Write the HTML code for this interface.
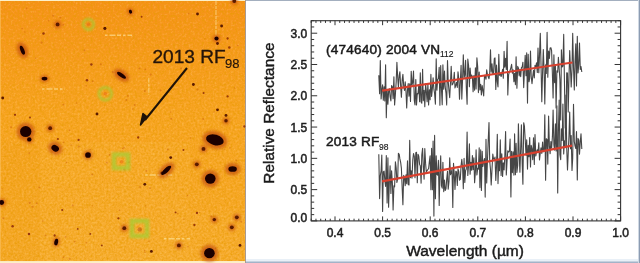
<!DOCTYPE html>
<html><head><meta charset="utf-8"><style>
html,body{margin:0;padding:0;background:#fff;width:640px;height:263px;overflow:hidden}
svg{position:absolute;left:0;top:0;display:block}
text{font-family:"Liberation Sans",sans-serif}
</style></head><body>
<svg width="640" height="263" viewBox="0 0 640 263">
<defs>
<linearGradient id="og" x1="0" y1="0" x2="0" y2="1">
<stop offset="0" stop-color="#f6921a"/><stop offset="0.45" stop-color="#f8a525"/><stop offset="1" stop-color="#f7ab2e"/>
</linearGradient>
<filter id="bl" x="-50%" y="-50%" width="200%" height="200%"><feGaussianBlur stdDeviation="0.6"/></filter>
<filter id="bl3" x="-50%" y="-50%" width="200%" height="200%"><feGaussianBlur stdDeviation="1.0"/></filter>
<filter id="bl2" x="-50%" y="-50%" width="200%" height="200%"><feGaussianBlur stdDeviation="1.4"/></filter>
<filter id="tex" x="0" y="0" width="100%" height="100%"><feTurbulence type="fractalNoise" baseFrequency="0.45" numOctaves="2" seed="4"/><feColorMatrix type="matrix" values="0 0 0 0 0.8  0 0 0 0 0.33  0 0 0 0 0  2.2 0 0 0 -0.95"/></filter>
<filter id="tex2" x="0" y="0" width="100%" height="100%"><feTurbulence type="fractalNoise" baseFrequency="0.45" numOctaves="2" seed="4"/><feColorMatrix type="matrix" values="0 0 0 0 1  0 0 0 0 0.82  0 0 0 0 0.35  -2.2 0 0 0 0.95"/></filter>
</defs>
<rect x="0" y="0" width="246" height="263" fill="#fcf0c8"/>
<rect x="0" y="1" width="245" height="260" fill="url(#og)"/>
<rect x="40" y="142" width="150" height="120" fill="#ffd060" opacity="0.1"/>
<rect x="0" y="142" width="40" height="120" fill="#e08000" opacity="0.05"/>
<rect x="190" y="212" width="55" height="50" fill="#ffd060" opacity="0.06"/>
<rect x="0" y="1" width="245" height="260" filter="url(#tex)" opacity="0.8"/>
<rect x="0" y="1" width="245" height="260" filter="url(#tex2)" opacity="0.35"/>
<rect x="0" y="1" width="1" height="260" fill="#f8c060" opacity="0.6"/>
<rect x="245" y="0" width="1" height="263" fill="#a89a90"/>
<g stroke="#fff0b0" stroke-width="1.5" opacity="0.55" filter="url(#bl)">
<path d="M105,35.3h27M42,89h23M145.3,174.9h27M164,238.8h26" stroke-dasharray="2.5 2 6 1.5 4 2"/>
<path d="M216,0v37M148.8,77.7v17" stroke-width="1.2" opacity="0.9" stroke-dasharray="5 1 3 1"/>
</g>
<g fill="#c8580a" opacity="0.45" filter="url(#bl)"><circle cx="124.0" cy="147.7" r="0.86"/><circle cx="236.3" cy="160.4" r="0.88"/><circle cx="71.1" cy="145.0" r="0.83"/><circle cx="149.0" cy="241.2" r="0.72"/><circle cx="76.6" cy="103.1" r="0.74"/><circle cx="86.4" cy="242.7" r="0.79"/><circle cx="188.7" cy="13.4" r="0.75"/><circle cx="171.3" cy="118.8" r="1.04"/><circle cx="106.9" cy="162.6" r="0.89"/><circle cx="146.4" cy="170.9" r="0.86"/><circle cx="48.7" cy="20.7" r="0.73"/><circle cx="24.9" cy="32.0" r="0.74"/><circle cx="144.8" cy="90.9" r="0.99"/><circle cx="234.7" cy="88.0" r="0.72"/><circle cx="167.8" cy="149.6" r="0.98"/><circle cx="150.7" cy="74.6" r="1.06"/><circle cx="140.1" cy="186.9" r="0.94"/><circle cx="187.5" cy="195.6" r="0.81"/><circle cx="11.1" cy="127.2" r="1.05"/><circle cx="36.8" cy="203.2" r="0.93"/><circle cx="172.1" cy="58.8" r="0.64"/><circle cx="66.5" cy="162.5" r="0.79"/><circle cx="63.4" cy="104.6" r="0.96"/><circle cx="63.6" cy="142.4" r="0.80"/><circle cx="241.3" cy="221.6" r="0.96"/><circle cx="134.7" cy="105.0" r="0.94"/><circle cx="205.0" cy="38.8" r="0.62"/><circle cx="112.8" cy="72.0" r="1.04"/><circle cx="65.6" cy="236.8" r="0.85"/><circle cx="203.2" cy="119.0" r="0.96"/><circle cx="237.7" cy="45.5" r="0.73"/><circle cx="126.3" cy="99.9" r="1.00"/><circle cx="224.5" cy="149.6" r="0.67"/><circle cx="92.7" cy="81.2" r="0.92"/><circle cx="63.2" cy="24.8" r="0.86"/><circle cx="69.4" cy="130.3" r="0.77"/><circle cx="186.4" cy="69.2" r="0.97"/><circle cx="29.7" cy="202.8" r="1.10"/><circle cx="69.8" cy="258.9" r="0.91"/><circle cx="139.4" cy="68.4" r="0.94"/><circle cx="109.6" cy="154.9" r="0.84"/><circle cx="190.5" cy="137.9" r="0.77"/><circle cx="78.7" cy="146.5" r="1.08"/><circle cx="26.5" cy="8.4" r="0.82"/><circle cx="45.6" cy="235.3" r="0.88"/><circle cx="199.5" cy="212.3" r="0.61"/><circle cx="214.1" cy="111.9" r="0.71"/><circle cx="211.2" cy="216.5" r="1.04"/><circle cx="215.5" cy="248.3" r="0.73"/><circle cx="60.4" cy="17.6" r="0.97"/><circle cx="92.2" cy="174.5" r="1.00"/><circle cx="63.6" cy="257.2" r="0.90"/><circle cx="216.7" cy="134.8" r="1.06"/><circle cx="119.6" cy="210.2" r="0.79"/><circle cx="2.1" cy="188.7" r="0.66"/><circle cx="229.8" cy="147.9" r="0.78"/><circle cx="187.9" cy="246.7" r="0.80"/><circle cx="170.7" cy="112.0" r="0.66"/><circle cx="42.8" cy="221.0" r="0.83"/><circle cx="86.2" cy="85.7" r="0.77"/><circle cx="72.8" cy="205.5" r="0.95"/><circle cx="145.6" cy="205.9" r="0.66"/><circle cx="204.0" cy="65.3" r="0.66"/><circle cx="127.9" cy="95.9" r="0.96"/><circle cx="183.9" cy="219.2" r="0.69"/><circle cx="160.6" cy="90.5" r="0.93"/><circle cx="177.8" cy="213.5" r="0.82"/><circle cx="122.7" cy="148.5" r="0.87"/><circle cx="197.5" cy="89.5" r="1.02"/><circle cx="39.3" cy="187.4" r="0.96"/><circle cx="145.3" cy="69.4" r="0.90"/><circle cx="53.2" cy="15.8" r="0.98"/><circle cx="100.8" cy="64.3" r="0.96"/><circle cx="90.2" cy="149.4" r="0.76"/><circle cx="35.6" cy="58.2" r="0.74"/><circle cx="124.1" cy="169.5" r="1.08"/><circle cx="144.7" cy="250.4" r="0.68"/><circle cx="22.2" cy="28.6" r="0.80"/><circle cx="92.3" cy="205.8" r="0.62"/><circle cx="144.9" cy="252.3" r="0.77"/><circle cx="128.9" cy="162.2" r="0.91"/><circle cx="132.9" cy="109.0" r="0.80"/><circle cx="32.5" cy="206.7" r="1.06"/><circle cx="41.6" cy="42.6" r="1.10"/><circle cx="3.3" cy="218.3" r="1.08"/><circle cx="181.1" cy="68.4" r="0.99"/><circle cx="150.0" cy="188.2" r="0.84"/><circle cx="74.7" cy="241.6" r="0.88"/><circle cx="84.5" cy="50.3" r="0.94"/><circle cx="29.2" cy="153.1" r="0.86"/></g>
<g fill="#c04a08" opacity="0.65" filter="url(#bl2)"><ellipse cx="57.6" cy="24.4" rx="3.60" ry="3.60"/><ellipse cx="22.4" cy="50.2" rx="5.20" ry="8.20" transform="rotate(-22 22.4 50.2)"/><ellipse cx="44.5" cy="78.6" rx="4.60" ry="3.60"/><ellipse cx="130.5" cy="11.7" rx="3.20" ry="3.70" transform="rotate(-20 130.5 11.7)"/><ellipse cx="121.5" cy="75.3" rx="8.70" ry="5.20" transform="rotate(35 121.5 75.3)"/><ellipse cx="234.3" cy="1" rx="3.60" ry="3.60"/><ellipse cx="216.5" cy="38.5" rx="3.80" ry="3.80"/><ellipse cx="25.7" cy="131.6" rx="9.20" ry="9.00"/><ellipse cx="29.3" cy="139.4" rx="3.90" ry="3.90"/><ellipse cx="50.2" cy="128.2" rx="3.60" ry="3.60"/><ellipse cx="55.2" cy="148.3" rx="7.40" ry="6.40" transform="rotate(30 55.2 148.3)"/><ellipse cx="88" cy="155" rx="4.60" ry="4.60"/><ellipse cx="226" cy="120.8" rx="3.40" ry="3.40"/><ellipse cx="214.9" cy="139.9" rx="12.70" ry="8.70" transform="rotate(15 214.9 139.9)"/><ellipse cx="203.5" cy="148.9" rx="3.60" ry="3.60"/><ellipse cx="166.3" cy="170.3" rx="9.90" ry="5.50" transform="rotate(-43 166.3 170.3)"/><ellipse cx="196.8" cy="164.3" rx="3.60" ry="3.60"/><ellipse cx="232.6" cy="169" rx="7.70" ry="6.20"/><ellipse cx="1.7" cy="202.5" rx="4.10" ry="4.10"/><ellipse cx="56.2" cy="242.1" rx="3.60" ry="5.10" transform="rotate(10 56.2 242.1)"/><ellipse cx="124.3" cy="228.2" rx="3.60" ry="3.60"/><ellipse cx="210.3" cy="178.6" rx="8.80" ry="8.60"/><ellipse cx="214.3" cy="219.6" rx="3.40" ry="3.40"/><ellipse cx="236.8" cy="217.3" rx="3.60" ry="3.60"/><ellipse cx="231.8" cy="227.3" rx="3.60" ry="3.60"/><ellipse cx="178.9" cy="245.4" rx="3.60" ry="3.60"/><ellipse cx="209.4" cy="253.2" rx="8.80" ry="8.60"/></g>
<g fill="#200800" filter="url(#bl)"><ellipse fill="#5a1a02" cx="57.6" cy="24.4" rx="1.90" ry="1.90"/><ellipse fill="#9a3a0a" cx="43.5" cy="33.5" rx="1.23" ry="1.23"/><ellipse fill="#1c0600" cx="22.4" cy="50.2" rx="1.90" ry="4.75" transform="rotate(-22 22.4 50.2)"/><ellipse fill="#1c0600" cx="44.5" cy="78.6" rx="2.85" ry="1.90"/><ellipse fill="#1c0600" cx="130.5" cy="11.7" rx="1.52" ry="1.99" transform="rotate(-20 130.5 11.7)"/><ellipse fill="#9a3a0a" cx="141.6" cy="16.7" rx="0.95" ry="0.95"/><ellipse fill="#5a1a02" cx="104.8" cy="28.4" rx="1.42" ry="1.42"/><ellipse fill="#5a1a02" cx="105" cy="28.4" rx="1.33" ry="1.33"/><ellipse fill="#9a3a0a" cx="91.4" cy="64.6" rx="1.23" ry="1.23"/><ellipse fill="#1c0600" cx="121.5" cy="75.3" rx="5.22" ry="1.90" transform="rotate(35 121.5 75.3)"/><ellipse fill="#9a3a0a" cx="87" cy="80.3" rx="1.23" ry="1.23"/><ellipse fill="#5a1a02" cx="234.3" cy="1" rx="1.90" ry="1.90"/><ellipse fill="#5a1a02" cx="197.5" cy="14" rx="1.42" ry="1.42"/><ellipse fill="#5a1a02" cx="221.6" cy="26" rx="1.42" ry="1.42"/><ellipse fill="#1c0600" cx="216.5" cy="38.5" rx="2.09" ry="2.09"/><ellipse fill="#9a3a0a" cx="227.6" cy="38.5" rx="1.14" ry="1.14"/><ellipse fill="#5a1a02" cx="217.5" cy="43.5" rx="1.42" ry="1.42"/><ellipse fill="#9a3a0a" cx="229.3" cy="47.5" rx="1.23" ry="1.23"/><ellipse fill="#5a1a02" cx="193.4" cy="84.5" rx="1.42" ry="1.42"/><ellipse fill="#9a3a0a" cx="203.6" cy="93" rx="0.95" ry="0.95"/><ellipse fill="#5a1a02" cx="2.7" cy="98" rx="1.42" ry="1.42"/><ellipse fill="#9a3a0a" cx="15" cy="114.8" rx="1.14" ry="1.14"/><ellipse fill="#1c0600" cx="25.7" cy="131.6" rx="5.70" ry="5.51"/><ellipse fill="#1c0600" cx="29.3" cy="139.4" rx="2.18" ry="2.18"/><ellipse fill="#9a3a0a" cx="30" cy="117.5" rx="0.95" ry="0.95"/><ellipse fill="#5a1a02" cx="50.2" cy="128.2" rx="1.90" ry="1.90"/><ellipse fill="#1c0600" cx="55.2" cy="148.3" rx="3.99" ry="3.04" transform="rotate(30 55.2 148.3)"/><ellipse fill="#9a3a0a" cx="57.9" cy="139" rx="1.04" ry="1.04"/><ellipse fill="#9a3a0a" cx="78.6" cy="139.9" rx="1.14" ry="1.14"/><ellipse fill="#5a1a02" cx="97" cy="114" rx="1.42" ry="1.42"/><ellipse fill="#9a3a0a" cx="138.2" cy="137.5" rx="1.14" ry="1.14"/><ellipse fill="#1c0600" cx="88" cy="155" rx="2.85" ry="2.85"/><ellipse fill="#5a1a02" cx="162" cy="173" rx="1.52" ry="1.52"/><ellipse fill="#9a3a0a" cx="227.6" cy="96.4" rx="1.14" ry="1.14"/><ellipse fill="#5a1a02" cx="217.5" cy="109.8" rx="1.42" ry="1.42"/><ellipse fill="#5a1a02" cx="226" cy="115.4" rx="1.42" ry="1.42"/><ellipse fill="#5a1a02" cx="226" cy="120.8" rx="1.71" ry="1.71"/><ellipse fill="#9a3a0a" cx="244.3" cy="126.5" rx="1.14" ry="1.14"/><ellipse fill="#1c0600" cx="214.9" cy="139.9" rx="9.03" ry="5.22" transform="rotate(15 214.9 139.9)"/><ellipse fill="#5a1a02" cx="203.5" cy="148.9" rx="1.90" ry="1.90"/><ellipse fill="#5a1a02" cx="170.7" cy="157.6" rx="1.42" ry="1.42"/><ellipse fill="#9a3a0a" cx="183.4" cy="150" rx="0.95" ry="0.95"/><ellipse fill="#1c0600" cx="166.3" cy="170.3" rx="6.37" ry="2.18" transform="rotate(-43 166.3 170.3)"/><ellipse fill="#5a1a02" cx="196.8" cy="164.3" rx="1.90" ry="1.90"/><ellipse fill="#1c0600" cx="232.6" cy="169" rx="4.27" ry="2.85"/><ellipse fill="#1c0600" cx="1.7" cy="202.5" rx="2.38" ry="2.38"/><ellipse fill="#9a3a0a" cx="12.6" cy="226.3" rx="1.23" ry="1.23"/><ellipse fill="#9a3a0a" cx="29" cy="233.9" rx="1.23" ry="1.23"/><ellipse fill="#9a3a0a" cx="62.2" cy="210" rx="1.04" ry="1.04"/><ellipse fill="#1c0600" cx="56.2" cy="242.1" rx="1.90" ry="3.32" transform="rotate(10 56.2 242.1)"/><ellipse fill="#9a3a0a" cx="54.6" cy="235.5" rx="1.14" ry="1.14"/><ellipse fill="#9a3a0a" cx="77.7" cy="228.9" rx="0.95" ry="0.95"/><ellipse fill="#5a1a02" cx="144.8" cy="184.3" rx="1.42" ry="1.42"/><ellipse fill="#9a3a0a" cx="118.4" cy="218.3" rx="1.14" ry="1.14"/><ellipse fill="#5a1a02" cx="124.3" cy="228.2" rx="1.90" ry="1.90"/><ellipse fill="#5a1a02" cx="151.4" cy="251.4" rx="1.42" ry="1.42"/><ellipse fill="#9a3a0a" cx="101.8" cy="245.4" rx="0.95" ry="0.95"/><ellipse fill="#9a3a0a" cx="90.3" cy="233.9" rx="0.95" ry="0.95"/><ellipse fill="#1c0600" cx="210.3" cy="178.6" rx="5.32" ry="5.13"/><ellipse fill="#5a1a02" cx="214.3" cy="219.6" rx="1.71" ry="1.71"/><ellipse fill="#5a1a02" cx="236.8" cy="217.3" rx="1.90" ry="1.90"/><ellipse fill="#5a1a02" cx="231.8" cy="227.3" rx="1.90" ry="1.90"/><ellipse fill="#9a3a0a" cx="197" cy="213" rx="1.14" ry="1.14"/><ellipse fill="#9a3a0a" cx="194.4" cy="225" rx="1.14" ry="1.14"/><ellipse fill="#9a3a0a" cx="175.6" cy="212.4" rx="0.95" ry="0.95"/><ellipse fill="#5a1a02" cx="178.9" cy="245.4" rx="1.90" ry="1.90"/><ellipse fill="#1c0600" cx="209.4" cy="253.2" rx="5.32" ry="5.13"/><ellipse fill="#5a1a02" cx="240" cy="245.4" rx="1.42" ry="1.42"/></g>
<g fill="none" stroke="#a0d038" stroke-width="2.8" opacity="0.7" filter="url(#bl3)">
<circle cx="88.4" cy="24.3" r="5.2"/><circle cx="105.3" cy="93.8" r="6.3"/>
<rect x="114" y="154.5" width="14" height="13.5" stroke-width="4.5"/><rect x="132" y="221" width="15" height="15" stroke-width="4.5"/>
</g>
<g fill="#e05010" opacity="0.35" filter="url(#bl)">
<circle cx="88.4" cy="24.3" r="1.8"/><circle cx="105.3" cy="93.8" r="1.8"/><circle cx="121.6" cy="161.8" r="1.8"/><circle cx="139.8" cy="229.4" r="2.2" fill="#902000"/>
</g>
<g fill="#24140a" stroke="#24140a" stroke-width="0.35">
<text x="152.4" y="62.8" font-size="19.1">2013 RF</text>
<text x="225" y="68.3" font-size="13" stroke-width="0.2">98</text>
</g>
<g stroke="#1e1208" stroke-width="2" fill="none">
<path d="M187,68L145,120"/>
</g>
<path d="M140.5,125L143,113.5L147,116.8Z" fill="#1e1208" stroke="#1e1208" stroke-width="1.5" stroke-linejoin="round"/>

<rect x="246" y="0" width="394" height="263" fill="#fff"/>
<rect x="246" y="0" width="394" height="1" fill="#a3afbf"/>
<rect x="246" y="259" width="394" height="3" fill="#e9f0f7"/>
<rect x="246" y="261.5" width="394" height="1.5" fill="#a3b3c8"/>
<rect x="638" y="0" width="1" height="263" fill="#d0d9e4"/>
<rect x="639" y="0" width="1" height="263" fill="#8c9cb2"/>

<g fill="none" stroke="#333" stroke-width="1.1">
<rect x="311.2" y="20.7" width="309.4" height="200.20000000000002"/>
<path d="M311.2,220.90h6M620.6,220.90h-6M311.2,214.64h3M620.6,214.64h-3M311.2,208.39h3M620.6,208.39h-3M311.2,202.13h3M620.6,202.13h-3M311.2,195.88h3M620.6,195.88h-3M311.2,189.62h6M620.6,189.62h-6M311.2,183.36h3M620.6,183.36h-3M311.2,177.11h3M620.6,177.11h-3M311.2,170.85h3M620.6,170.85h-3M311.2,164.59h3M620.6,164.59h-3M311.2,158.34h6M620.6,158.34h-6M311.2,152.08h3M620.6,152.08h-3M311.2,145.83h3M620.6,145.83h-3M311.2,139.57h3M620.6,139.57h-3M311.2,133.31h3M620.6,133.31h-3M311.2,127.06h6M620.6,127.06h-6M311.2,120.80h3M620.6,120.80h-3M311.2,114.54h3M620.6,114.54h-3M311.2,108.29h3M620.6,108.29h-3M311.2,102.03h3M620.6,102.03h-3M311.2,95.77h6M620.6,95.77h-6M311.2,89.52h3M620.6,89.52h-3M311.2,83.26h3M620.6,83.26h-3M311.2,77.01h3M620.6,77.01h-3M311.2,70.75h3M620.6,70.75h-3M311.2,64.49h6M620.6,64.49h-6M311.2,58.24h3M620.6,58.24h-3M311.2,51.98h3M620.6,51.98h-3M311.2,45.73h3M620.6,45.73h-3M311.2,39.47h3M620.6,39.47h-3M311.2,33.21h6M620.6,33.21h-6M311.2,26.96h3M620.6,26.96h-3M311.2,20.70h3M620.6,20.70h-3M311.20,220.9v-2.2M311.20,20.7v2.2M315.96,220.9v-2.2M315.96,20.7v2.2M320.72,220.9v-2.2M320.72,20.7v2.2M325.48,220.9v-2.2M325.48,20.7v2.2M330.24,220.9v-2.2M330.24,20.7v2.2M335.00,220.9v-4.5M335.00,20.7v4.5M339.76,220.9v-2.2M339.76,20.7v2.2M344.52,220.9v-2.2M344.52,20.7v2.2M349.28,220.9v-2.2M349.28,20.7v2.2M354.04,220.9v-2.2M354.04,20.7v2.2M358.80,220.9v-2.2M358.80,20.7v2.2M363.56,220.9v-2.2M363.56,20.7v2.2M368.32,220.9v-2.2M368.32,20.7v2.2M373.08,220.9v-2.2M373.08,20.7v2.2M377.84,220.9v-2.2M377.84,20.7v2.2M382.60,220.9v-4.5M382.60,20.7v4.5M387.36,220.9v-2.2M387.36,20.7v2.2M392.12,220.9v-2.2M392.12,20.7v2.2M396.88,220.9v-2.2M396.88,20.7v2.2M401.64,220.9v-2.2M401.64,20.7v2.2M406.40,220.9v-2.2M406.40,20.7v2.2M411.16,220.9v-2.2M411.16,20.7v2.2M415.92,220.9v-2.2M415.92,20.7v2.2M420.68,220.9v-2.2M420.68,20.7v2.2M425.44,220.9v-2.2M425.44,20.7v2.2M430.20,220.9v-4.5M430.20,20.7v4.5M434.96,220.9v-2.2M434.96,20.7v2.2M439.72,220.9v-2.2M439.72,20.7v2.2M444.48,220.9v-2.2M444.48,20.7v2.2M449.24,220.9v-2.2M449.24,20.7v2.2M454.00,220.9v-2.2M454.00,20.7v2.2M458.76,220.9v-2.2M458.76,20.7v2.2M463.52,220.9v-2.2M463.52,20.7v2.2M468.28,220.9v-2.2M468.28,20.7v2.2M473.04,220.9v-2.2M473.04,20.7v2.2M477.80,220.9v-4.5M477.80,20.7v4.5M482.56,220.9v-2.2M482.56,20.7v2.2M487.32,220.9v-2.2M487.32,20.7v2.2M492.08,220.9v-2.2M492.08,20.7v2.2M496.84,220.9v-2.2M496.84,20.7v2.2M501.60,220.9v-2.2M501.60,20.7v2.2M506.36,220.9v-2.2M506.36,20.7v2.2M511.12,220.9v-2.2M511.12,20.7v2.2M515.88,220.9v-2.2M515.88,20.7v2.2M520.64,220.9v-2.2M520.64,20.7v2.2M525.40,220.9v-4.5M525.40,20.7v4.5M530.16,220.9v-2.2M530.16,20.7v2.2M534.92,220.9v-2.2M534.92,20.7v2.2M539.68,220.9v-2.2M539.68,20.7v2.2M544.44,220.9v-2.2M544.44,20.7v2.2M549.20,220.9v-2.2M549.20,20.7v2.2M553.96,220.9v-2.2M553.96,20.7v2.2M558.72,220.9v-2.2M558.72,20.7v2.2M563.48,220.9v-2.2M563.48,20.7v2.2M568.24,220.9v-2.2M568.24,20.7v2.2M573.00,220.9v-4.5M573.00,20.7v4.5M577.76,220.9v-2.2M577.76,20.7v2.2M582.52,220.9v-2.2M582.52,20.7v2.2M587.28,220.9v-2.2M587.28,20.7v2.2M592.04,220.9v-2.2M592.04,20.7v2.2M596.80,220.9v-2.2M596.80,20.7v2.2M601.56,220.9v-2.2M601.56,20.7v2.2M606.32,220.9v-2.2M606.32,20.7v2.2M611.08,220.9v-2.2M611.08,20.7v2.2M615.84,220.9v-2.2M615.84,20.7v2.2M620.60,220.9v-4.5M620.60,20.7v4.5" stroke-width="1"/>
</g>
<g fill="#1e1e1e" stroke="#1e1e1e" stroke-width="0.5" font-size="12"><text x="307.2" y="221.6" text-anchor="end">0.0</text><text x="307.2" y="194.2" text-anchor="end">0.5</text><text x="307.2" y="162.9" text-anchor="end">1.0</text><text x="307.2" y="131.7" text-anchor="end">1.5</text><text x="307.2" y="100.4" text-anchor="end">2.0</text><text x="307.2" y="69.1" text-anchor="end">2.5</text><text x="307.2" y="37.8" text-anchor="end">3.0</text><text x="335.0" y="237" text-anchor="middle">0.4</text><text x="382.6" y="237" text-anchor="middle">0.5</text><text x="430.2" y="237" text-anchor="middle">0.6</text><text x="477.8" y="237" text-anchor="middle">0.7</text><text x="525.4" y="237" text-anchor="middle">0.8</text><text x="573.0" y="237" text-anchor="middle">0.9</text><text x="620.6" y="237" text-anchor="middle">1.0</text></g>
<text x="0" y="0" font-size="15.4" fill="#1a1a1a" stroke="#1a1a1a" stroke-width="0.45" transform="translate(274,183.7) rotate(-90)">Relative Reflectance</text>
<text x="406.2" y="255.8" font-size="15.5" fill="#1a1a1a" stroke="#1a1a1a" stroke-width="0.45">Wavelength (µm)</text>
<g fill="#1a1a1a" stroke="#1a1a1a" stroke-width="0.5">
<text x="326" y="54.3" font-size="13.6" letter-spacing="0.2">(474640) 2004 VN</text><text x="440" y="57" font-size="8.5" stroke-width="0.15">112</text>
<text x="326" y="145.6" font-size="13.6" letter-spacing="0.2">2013 RF</text><text x="379" y="149.5" font-size="8.5" stroke-width="0.15">98</text>
</g>
<g fill="none" stroke="#464646" stroke-width="1.1" stroke-linejoin="round">
<polyline points="378.8,75.2 379.6,93.8 380.3,60.6 381.1,99.0 381.8,90.1 382.6,84.8 383.3,100.3 384.1,86.7 384.8,101.0 385.6,64.7 386.3,117.8 387.1,89.5 387.9,104.3 388.6,91.5 389.4,88.7 390.1,96.8 390.9,100.9 391.6,85.6 392.4,86.7 393.1,98.6 393.9,76.7 394.6,105.0 395.4,94.1 396.2,81.7 396.9,62.3 397.7,77.2 398.4,87.1 399.2,75.7 399.9,71.7 400.7,86.9 401.4,97.3 402.2,79.6 402.9,74.4 403.7,86.2 404.5,90.5 405.2,81.7 406.0,91.6 406.7,108.0 407.5,89.8 408.2,83.6 409.0,96.2 409.7,83.7 410.5,101.4 411.2,71.3 412.0,85.0 412.8,81.8 413.5,71.1 414.3,100.4 415.0,105.0 415.8,79.5 416.5,105.0 417.3,93.6 418.0,93.9 418.8,84.8 419.6,101.7 420.3,72.7 421.1,102.0 421.8,103.2 422.6,69.3 423.3,100.8 424.1,90.2 424.8,106.8 425.6,83.9 426.3,90.6 427.1,101.8 427.9,83.5 428.6,105.0 429.4,89.9 430.1,99.8 430.9,74.4 431.6,96.5 432.4,88.3 433.1,77.7 433.9,89.2 434.6,93.5 435.4,104.1 436.2,58.7 436.9,90.1 437.7,79.5 438.4,78.5 439.2,67.4 439.9,105.3 440.7,65.6 441.4,87.9 442.2,104.7 442.9,64.7 443.7,89.3 444.5,71.1 445.2,86.9 446.0,93.2 446.7,104.9 447.5,60.6 448.2,81.3 449.0,91.0 449.7,97.6 450.5,82.1 451.2,66.2 452.0,85.0 452.8,84.1 453.5,81.8 454.3,72.3 455.0,87.9 455.8,85.3 456.5,82.4 457.3,87.5 458.0,71.8 458.8,78.9 459.5,99.3 460.3,81.7 461.1,65.3 461.8,99.1 462.6,78.6 463.3,54.8 464.1,77.6 464.8,75.2 465.6,60.4 466.3,87.5 467.1,104.2 467.8,59.0 468.6,65.8 469.4,86.7 470.1,68.0 470.9,78.4 471.6,75.0 472.4,76.8 473.1,91.6 473.9,75.6 474.6,90.1 475.4,67.9 476.1,89.0 476.9,57.7 477.7,66.9 478.4,92.6 479.2,72.1 479.9,89.9 480.7,84.3 481.4,94.9 482.2,85.6 482.9,90.3 483.7,96.0 484.5,75.4 485.2,76.3 486.0,79.3 486.7,69.9 487.5,74.8 488.2,76.7 489.0,78.8 489.7,73.5 490.5,49.8 491.2,72.1 492.0,63.9 492.8,74.5 493.5,73.4 494.3,58.6 495.0,57.9 495.8,89.5 496.5,65.0 497.3,81.8 498.0,87.0 498.8,54.2 499.5,75.2 500.3,73.8 501.1,76.5 501.8,73.8 502.6,69.4 503.3,78.2 504.1,51.3 504.8,67.2 505.6,58.2 506.3,69.5 507.1,41.2 507.8,95.0 508.6,74.9 509.4,71.8 510.1,70.5 510.9,67.6 511.6,64.4 512.4,73.1 513.1,69.7 513.9,81.7 514.6,73.2 515.4,84.6 516.1,56.8 516.9,88.3 517.7,66.4 518.4,68.0 519.2,76.0 519.9,69.4 520.7,76.7 521.4,67.7 522.2,66.8 522.9,62.2 523.7,87.6 524.4,71.5 525.2,55.2 526.0,75.7 526.7,52.9 527.5,103.1 528.2,54.2 529.0,81.8 529.7,78.4 530.5,51.0 531.2,76.3 532.0,83.7 532.7,76.9 533.5,70.3 534.3,78.0 535.0,65.4 535.8,67.2 536.5,62.9 537.3,72.5 538.0,48.0 538.8,72.7 539.5,55.8 540.3,33.3 541.0,64.0 541.8,101.7 542.6,71.3 543.3,49.6 544.1,71.0 544.8,104.0 545.6,64.8 546.3,73.5 547.1,32.2 547.8,77.2 548.6,51.1 549.4,58.4 550.1,48.0 550.9,47.7 551.6,50.7 552.4,74.3 553.1,98.0 553.9,54.8 554.6,82.6 555.4,65.9 556.1,108.0 556.9,70.9 557.7,72.1 558.4,57.2 559.2,69.2 559.9,79.4 560.7,120.0 561.4,49.8 562.2,66.9 562.9,66.1 563.7,34.4 564.4,79.2 565.2,128.0 566.0,122.0 566.7,72.8 567.5,73.0 568.2,112.0 569.0,77.1 569.7,50.5 570.5,69.6 571.2,87.0 572.0,69.0 572.7,33.3 573.5,67.7 574.3,90.0 575.0,62.0 575.8,43.7 576.5,85.9 577.3,36.3 578.0,73.0 578.8,64.4 579.5,43.1 580.3,69.4 581.0,66.6 581.8,72.0"/>
<polyline points="378.8,154.3 379.6,198.6 380.3,175.8 381.1,170.8 381.8,155.0 382.6,211.4 383.3,171.8 384.1,171.1 384.8,179.9 385.6,186.4 386.3,155.5 387.1,202.9 387.9,157.8 388.6,207.2 389.4,181.0 390.1,165.8 390.9,193.5 391.6,170.7 392.4,183.4 393.1,210.0 393.9,185.8 394.6,186.9 395.4,161.7 396.2,168.0 396.9,182.4 397.7,178.6 398.4,153.3 399.2,154.3 399.9,158.9 400.7,162.6 401.4,168.4 402.2,188.7 402.9,204.8 403.7,175.4 404.5,177.2 405.2,185.6 406.0,174.7 406.7,183.6 407.5,160.9 408.2,184.6 409.0,185.0 409.7,140.2 410.5,177.8 411.2,170.9 412.0,178.3 412.8,159.8 413.5,153.5 414.3,156.3 415.0,177.8 415.8,152.7 416.5,152.3 417.3,182.8 418.0,154.3 418.8,156.3 419.6,164.4 420.3,165.7 421.1,183.1 421.8,155.0 422.6,148.3 423.3,166.9 424.1,179.1 424.8,148.5 425.6,163.4 426.3,172.0 427.1,170.6 427.9,169.5 428.6,168.7 429.4,161.1 430.1,155.8 430.9,189.7 431.6,148.4 432.4,189.7 433.1,141.1 433.9,216.1 434.6,135.4 435.4,198.7 436.2,155.7 436.9,174.3 437.7,175.1 438.4,160.4 439.2,205.4 439.9,173.0 440.7,155.8 441.4,185.7 442.2,188.2 442.9,162.2 443.7,191.6 444.5,180.0 445.2,190.4 446.0,188.7 446.7,179.1 447.5,171.4 448.2,189.3 449.0,181.5 449.7,157.9 450.5,174.7 451.2,173.0 452.0,169.3 452.8,207.5 453.5,163.4 454.3,175.0 455.0,189.4 455.8,171.2 456.5,171.8 457.3,185.4 458.0,168.8 458.8,171.7 459.5,180.2 460.3,179.4 461.1,165.2 461.8,159.3 462.6,167.5 463.3,188.7 464.1,158.4 464.8,182.4 465.6,170.5 466.3,169.0 467.1,132.0 467.8,175.5 468.6,164.9 469.4,143.9 470.1,174.3 470.9,162.4 471.6,170.1 472.4,155.6 473.1,169.6 473.9,157.9 474.6,182.7 475.4,172.0 476.1,149.9 476.9,175.0 477.7,168.4 478.4,169.1 479.2,147.7 479.9,187.6 480.7,149.9 481.4,190.4 482.2,151.4 482.9,166.5 483.7,161.5 484.5,158.6 485.2,197.1 486.0,139.3 486.7,182.9 487.5,159.5 488.2,141.1 489.0,122.5 489.7,160.7 490.5,169.8 491.2,185.0 492.0,169.6 492.8,154.0 493.5,158.9 494.3,159.3 495.0,157.1 495.8,180.5 496.5,166.6 497.3,134.2 498.0,183.6 498.8,160.6 499.5,170.8 500.3,139.9 501.1,175.5 501.8,153.8 502.6,176.4 503.3,162.7 504.1,170.0 504.8,156.5 505.6,131.5 506.3,175.0 507.1,160.6 507.8,150.7 508.6,152.1 509.4,151.0 510.1,139.0 510.9,197.0 511.6,151.4 512.4,172.6 513.1,151.7 513.9,175.1 514.6,133.9 515.4,174.7 516.1,143.4 516.9,172.4 517.7,165.5 518.4,123.7 519.2,153.9 519.9,172.3 520.7,147.3 521.4,124.9 522.2,163.7 522.9,184.2 523.7,122.7 524.4,126.0 525.2,139.2 526.0,155.2 526.7,139.9 527.5,169.1 528.2,145.2 529.0,156.7 529.7,137.5 530.5,166.9 531.2,145.3 532.0,149.0 532.7,159.6 533.5,137.8 534.3,164.5 535.0,134.6 535.8,156.0 536.5,152.0 537.3,149.7 538.0,152.5 538.8,142.8 539.5,159.9 540.3,152.6 541.0,147.8 541.8,153.4 542.6,142.1 543.3,151.8 544.1,149.8 544.8,114.8 545.6,180.3 546.3,138.7 547.1,139.6 547.8,164.1 548.6,116.0 549.4,146.3 550.1,153.8 550.9,141.6 551.6,148.3 552.4,136.9 553.1,110.0 553.9,145.0 554.6,150.1 555.4,123.9 556.1,151.0 556.9,105.7 557.7,193.0 558.4,131.7 559.2,100.0 559.9,154.7 560.7,159.7 561.4,128.7 562.2,140.4 562.9,104.0 563.7,153.9 564.4,140.9 565.2,147.6 566.0,95.0 566.7,147.5 567.5,170.0 568.2,153.4 569.0,135.4 569.7,112.0 570.5,148.7 571.2,135.6 572.0,170.4 572.7,158.1 573.5,104.3 574.3,141.6 575.0,145.8 575.8,148.5 576.5,131.5 577.3,180.0 578.0,138.4 578.8,140.0 579.5,154.2 580.3,141.6 581.0,133.7 581.8,149.0"/>
</g>
<g stroke="#d8402e" stroke-width="2.1" fill="none">
<path d="M382.1,90.6L572.5,62.5"/><path d="M382.1,181.4L572.2,145.6"/>
</g>
</svg>
</body></html>
